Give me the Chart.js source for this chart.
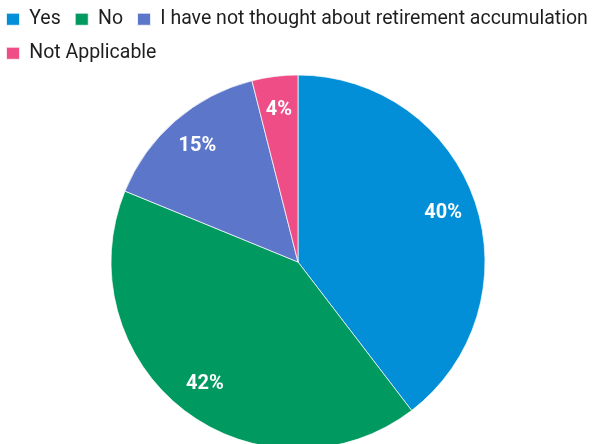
<!DOCTYPE html>
<html>
<head>
<meta charset="utf-8">
<script src="https://cdn.jsdelivr.net/npm/chart.js@4"></script>
<style>
  html, body { margin: 0; padding: 0; background: #fff; }
  #wrap { position: relative; width: 603px; height: 444px; overflow: hidden; }
  #chart { position: absolute; left: -8px; top: -5px; }
</style>
</head>
<body>
<div id="wrap">
  <canvas id="chart" width="612" height="456"></canvas>
</div>
<script>
const categories = ['Yes', 'No', 'I have not thought about retirement accumulation', 'Not Applicable'];
const shares = [40, 42, 15, 4];
const sliceColors = ['#038fd7', '#00995f', '#5c77c9', '#ef4d86'];

// white percentage text inside each slice
const sliceLabels = {
    id: 'sliceLabels',
    afterDatasetsDraw(chart) {
        const ctx = chart.ctx;
        const meta = chart.getDatasetMeta(0);
        ctx.save();
        ctx.fillStyle = '#fff';
        ctx.font = 'bold 20px Roboto';
        ctx.textAlign = 'center';
        ctx.textBaseline = 'middle';
        meta.data.forEach((arc, i) => {
            const p = arc.getProps(['x', 'y', 'startAngle', 'endAngle', 'outerRadius'], true);
            const mid = (p.startAngle + p.endAngle) / 2;
            const r = p.outerRadius * 0.82;
            ctx.fillText(shares[i] + '%', p.x + Math.cos(mid) * r, p.y + Math.sin(mid) * r);
        });
        ctx.restore();
    }
};

const ctx = document.getElementById('chart');

new Chart(ctx, {
    type: 'pie',
    data: {
        labels: categories,
        datasets: [{
            data: shares,
            backgroundColor: sliceColors,
            borderColor: 'rgba(255,255,255,0.7)',
            borderWidth: 1,
            radius: 187
        }]
    },
    options: {
        responsive: false,
        animation: false,
        layout: { padding: 0 },
        plugins: {
            legend: {
                position: 'top',
                align: 'start',
                labels: {
                    boxWidth: 13,
                    boxHeight: 12,
                    padding: 14.5,
                    color: '#1e1e1e',
                    font: { family: 'Roboto', size: 19.5 }
                }
            },
            tooltip: { enabled: false }
        }
    },
    plugins: [sliceLabels]
});
</script>
</body>
</html>
